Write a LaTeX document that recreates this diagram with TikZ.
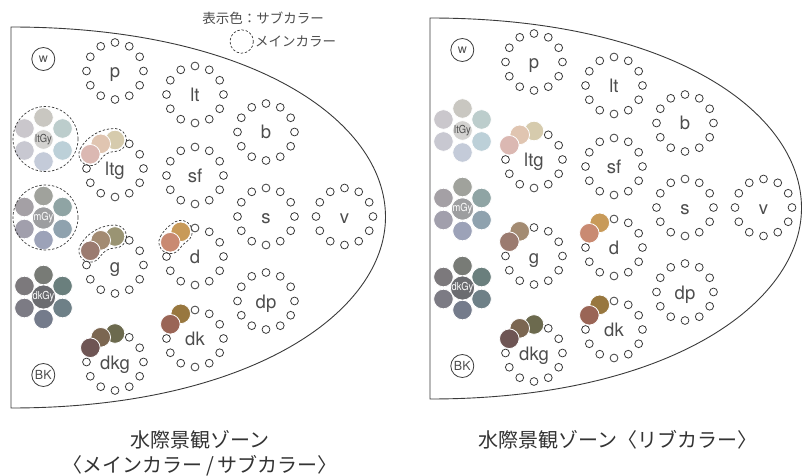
\documentclass[tikz,border=0pt]{standalone}
\usepackage{fontspec}
\setmainfont{TeX Gyre Heros}
\newfontfamily\jpfont{Noto Sans CJK JP}
\usetikzlibrary{calc}
\definecolor{ink}{HTML}{3A3A3A}
\definecolor{lblc}{HTML}{4D4D4D}
\definecolor{ttl}{HTML}{333333}
% gray clusters: A top, B top-right, C bottom-right, D bottom, E bottom-left, F top-left, Z centre
\definecolor{ltGyA}{HTML}{C9C7C1}\definecolor{ltGyB}{HTML}{BCCDCC}\definecolor{ltGyC}{HTML}{BCD0D8}
\definecolor{ltGyD}{HTML}{C4CBD9}\definecolor{ltGyE}{HTML}{C8C8D1}\definecolor{ltGyF}{HTML}{CAC7CC}
\definecolor{ltGyZ}{HTML}{D3D2D0}
\definecolor{mGyA}{HTML}{A0A29C}\definecolor{mGyB}{HTML}{8FA4A4}\definecolor{mGyC}{HTML}{8FA2AE}
\definecolor{mGyD}{HTML}{9CA2B8}\definecolor{mGyE}{HTML}{A19FAC}\definecolor{mGyF}{HTML}{A4A0A5}
\definecolor{mGyZ}{HTML}{9D9EA0}
\definecolor{dkGyA}{HTML}{787B76}\definecolor{dkGyB}{HTML}{6A7F7D}\definecolor{dkGyC}{HTML}{6E8087}
\definecolor{dkGyD}{HTML}{747B8B}\definecolor{dkGyE}{HTML}{7C7B84}\definecolor{dkGyF}{HTML}{7C797C}
\definecolor{dkGyZ}{HTML}{6B6C70}
% ring colours: A at 150deg, B at 120deg, C at 90deg
\definecolor{ltgA}{HTML}{DBB8B2}\definecolor{ltgB}{HTML}{E0C5B1}\definecolor{ltgC}{HTML}{D6CBAD}
\definecolor{gA}{HTML}{9B7B70}\definecolor{gB}{HTML}{A38B72}\definecolor{gC}{HTML}{9A9473}
\definecolor{dA}{HTML}{C98A72}\definecolor{dB}{HTML}{C89A59}
\definecolor{dkA}{HTML}{9A6556}\definecolor{dkB}{HTML}{98773F}
\definecolor{dkgA}{HTML}{6E5554}\definecolor{dkgB}{HTML}{7B6651}\definecolor{dkgC}{HTML}{6C6A4E}
\tikzset{
  ringc/.style={draw=ink, fill=white, line width=0.8pt},
  lbl/.style={text=lblc, font=\fontsize{18.5}{18.5}\selectfont, inner sep=0pt},
  dashband/.style={draw=ink, dash pattern=on 2.4pt off 1.8pt, line width=0.7pt},
  tagcirc/.style={circle, draw=ink, line width=0.8pt, minimum size=23pt, inner sep=0pt,
    font=\fontsize{12.5}{12.5}\selectfont, text=lblc},
  panel/.style={draw=ink, line width=0.9pt},
  jptext/.style={font=\jpfont\fontsize{20}{20}\selectfont, text=ttl, inner sep=0pt},
  legtext/.style={font=\jpfont\fontsize{13.5}{13.5}\selectfont, text=lblc, inner sep=0pt},
}
\newcommand\ringz[4]{%
  \coordinate (#1) at (#2,#3);
  \foreach \a in {0,30,...,330}{\draw[ringc] ($(#1)+(\a:28.5)$) circle[radius=3.9];}
  \node[lbl, anchor=base] (#1-t) at ($(#1)+(0,7)$) {#4};
}
\newcommand\oncol[3]{%
  \fill[#3, draw=white, line width=0.8pt] ($(#1)+(-#2:28.5)$) circle[radius=9.8];}
\newcommand\band[3]{%
  \draw[dashband] ($(#1)+(-#3:40)$)
    arc[start angle=-#3, end angle=-#2, radius=40]
    arc[start angle=-#2, end angle=-#2+180, radius=11.5]
    arc[start angle=-#2, end angle=-#3, radius=17]
    arc[start angle=-#3+180, end angle=-#3+360, radius=11.5] -- cycle;}
\newcommand\cluster[6]{%
  \coordinate (#1) at (#2,#3);
  \foreach \ang/\k in {-90/A,-30/B,30/C,90/D,150/E,210/F}{%
    \fill[#4\k, draw=white, line width=0.8pt] ($(#1)+(\ang:22)$) circle[radius=9.8];}
  \node[circle, fill=#4Z, draw=white, line width=0.8pt, minimum size=19.6pt, inner sep=0pt,
    text=#6, font=\fontsize{11}{11}\selectfont] (#1-c) at (#1) {\scalebox{0.85}[1]{#5}};
}
\newcommand\zone[2]{%
  \node[tagcirc] (#1w) at (43.3,59) {w};
  \node[tagcirc] (#1bk) at (43.3,375) {BK};
  \cluster{#1lgy}{43.5}{139.5}{ltGy}{ltGy}{lblc}
  \cluster{#1mgy}{43.5}{218}{mGy}{mGy}{white}
  \cluster{#1dgy}{43.5}{297}{dkGy}{dkGy}{white}
  \ringz{#1p}{115}{71}{p}
  \ringz{#1ltg}{115}{168.5}{ltg}
  \ringz{#1g}{115}{265}{g}
  \ringz{#1dkg}{115}{362}{dkg}
  \ringz{#1lt}{195}{94.5}{lt}
  \ringz{#1sf}{195}{175.5}{sf}
  \ringz{#1d}{195}{256.5}{d}
  \ringz{#1dk}{195}{338.5}{dk}
  \ringz{#1b}{266}{132}{b}
  \ringz{#1s}{266}{216.5}{s}
  \ringz{#1dp}{266}{301}{dp}
  \ringz{#1v}{344.5}{216.5}{v}
  \oncol{#1ltg}{90}{ltgC}\oncol{#1ltg}{120}{ltgB}\oncol{#1ltg}{150}{ltgA}
  \ifnum#2=1 \oncol{#1g}{90}{gC}\fi
  \oncol{#1g}{120}{gB}\oncol{#1g}{150}{gA}
  \oncol{#1d}{120}{dB}\oncol{#1d}{150}{dA}
  \oncol{#1dk}{120}{dkB}\oncol{#1dk}{150}{dkA}
  \oncol{#1dkg}{90}{dkgC}\oncol{#1dkg}{120}{dkgB}\oncol{#1dkg}{150}{dkgA}
  \ifnum#2=1
    \band{#1ltg}{90}{150}
    \band{#1g}{90}{150}
    \band{#1d}{120}{150}
    \draw[dashband] (45.5,139) circle[radius=32.5];
    \draw[dashband] (45.5,217.5) circle[radius=32.5];
  \fi
}
\begin{document}
\begin{tikzpicture}[x=1pt,y=-1pt]
\useasboundingbox (0,0) rectangle (803,476);
% outlines
\draw[panel] (11,27) .. controls (250,27) and (385.5,120) .. (385.5,217)
  .. controls (385.5,312) and (250,408) .. (11,408) -- cycle;
\draw[panel] (430,18) .. controls (669,18) and (801.5,111) .. (801.5,208)
  .. controls (801.5,303) and (669,399) .. (430,399) -- cycle;
\zone{L}{1}
\begin{scope}[shift={(419,-9)}]
\zone{R}{0}
\end{scope}
% legend
\node[legtext] (leg1) at (263,18.3) {表示色：サブカラー};
\draw[dashband] (241.7,41.5) circle[radius=11.7];
\node[legtext, anchor=west] (leg2) at (255,41.7) {メインカラー};
% titles
\node[jptext] (t1) at (200,440) {水際景観ゾーン};
\node[jptext] (t2) at (200,466) {〈メインカラー\,/\,サブカラー〉};
\node[jptext] (t3) at (618,440) {水際景観ゾーン〈リブカラー〉};
\end{tikzpicture}
\end{document}
